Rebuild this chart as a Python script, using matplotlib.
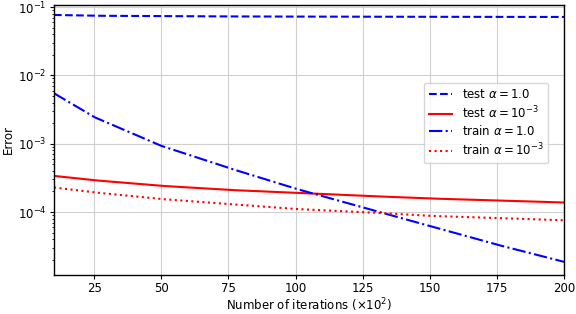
import matplotlib
matplotlib.use("Agg")
import matplotlib.pyplot as plt
import numpy as np

iters = [10, 25, 50, 75, 100, 125, 150, 175, 200]
test_a1 = [0.0765, 0.0745, 0.0735, 0.0728, 0.0724, 0.0721, 0.0719, 0.0717, 0.0715]
test_a3 = [3.38e-4, 2.92e-4, 2.42e-4, 2.11e-4, 1.91e-4, 1.73e-4, 1.58e-4, 1.48e-4, 1.38e-4]
train_a1 = [5.47e-3, 2.45e-3, 9.3e-4, 4.43e-4, 2.2e-4, 1.17e-4, 6.25e-5, 3.34e-5, 1.87e-5]
train_a3 = [2.29e-4, 1.94e-4, 1.55e-4, 1.31e-4, 1.11e-4, 1.0e-4, 8.8e-5, 8.2e-5, 7.57e-5]

x = np.array(iters, dtype=float)
xs = np.linspace(10, 200, 300)
def smooth(vals):
    return 10 ** np.interp(xs, x, np.log10(vals))

plt.rcParams['font.size'] = 8.5
plt.rcParams['xtick.major.size'] = 2.8
plt.rcParams['ytick.major.size'] = 2.8
plt.rcParams['ytick.minor.size'] = 1.6
plt.rcParams['xtick.major.pad'] = 2.5
plt.rcParams['ytick.major.pad'] = 2.5
plt.rcParams['axes.linewidth'] = 1.0
fig = plt.figure(figsize=(5.76, 3.14), dpi=100)
ax = fig.add_axes([54/576, 1-275/314, (564-54)/576, (275-5)/314])

ax.plot(xs, smooth(test_a1), 'b--', lw=1.5, label=r'test $\alpha = 1.0$')
ax.plot(xs, smooth(test_a3), 'r-', lw=1.5, label=r'test $\alpha = 10^{-3}$')
ax.plot(xs, smooth(train_a1), 'b-.', lw=1.5, label=r'train $\alpha = 1.0$')
ax.plot(xs, smooth(train_a3), 'r:', lw=1.5, label=r'train $\alpha = 10^{-3}$')

ax.set_yscale('log')
ax.set_xlim(10, 200)
ax.set_ylim(1.2e-5, 0.107)
ax.set_xticks([25, 50, 75, 100, 125, 150, 175, 200])
ax.grid(True, which='major', color='#d0d0d0', lw=0.8)
ax.set_xlabel(r'Number of iterations ($\times 10^2$)', labelpad=0.5)
ax.set_ylabel('Error', labelpad=2)
ax.legend(loc='upper right', bbox_to_anchor=(0.969, 0.711), borderaxespad=0,
          labelspacing=0.3)
fig.savefig('out.png', dpi=100)
